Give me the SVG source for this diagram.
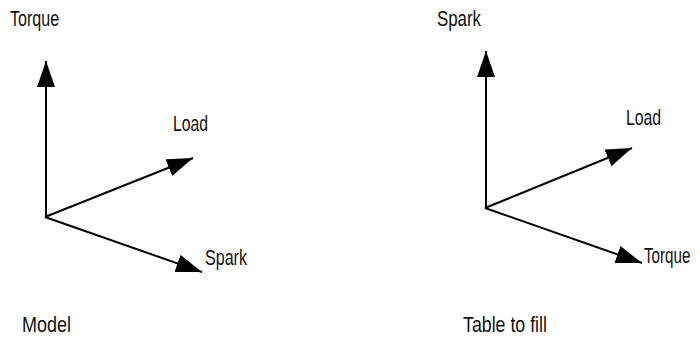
<svg xmlns="http://www.w3.org/2000/svg" width="700" height="337" viewBox="0 0 700 337">
  <style>
    .lbl { font-family: "Liberation Sans", Arial, sans-serif; font-size: 22px; fill: #111; }
    .ax { stroke: #000; stroke-width: 2; fill: none; marker-end: url(#head); }
  </style>
  <defs>
    <marker id="head" markerUnits="userSpaceOnUse" markerWidth="28" markerHeight="20" refX="26" refY="9" orient="auto">
      <path d="M0,0 L26,9 L0,18 Z" fill="#000"/>
    </marker>
  </defs>
  <rect width="700" height="337" fill="#fff"/>
  <g id="connectors">
    <line class="ax" x1="46" y1="217" x2="46" y2="61"/>
    <line class="ax" x1="45" y1="217" x2="193" y2="158"/>
    <line class="ax" x1="45" y1="217" x2="202" y2="272"/>
    <line class="ax" x1="486" y1="208" x2="486" y2="51"/>
    <line class="ax" x1="485" y1="208" x2="632" y2="148"/>
    <line class="ax" x1="485" y1="208" x2="642" y2="263"/>
  </g>
  <g id="model-torque"><text class="lbl" transform="translate(10,26) scale(0.732,1)">Torque</text></g>
  <g id="model-load"><text class="lbl" transform="translate(173,131) scale(0.716,1)">Load</text></g>
  <g id="model-spark"><text class="lbl" transform="translate(205,265) scale(0.731,1)">Spark</text></g>
  <g id="model-title"><text class="lbl" transform="translate(22,332) scale(0.818,1)">Model</text></g>
  <g id="table-spark"><text class="lbl" transform="translate(437,26) scale(0.766,1)">Spark</text></g>
  <g id="table-load"><text class="lbl" transform="translate(626,125) scale(0.716,1)">Load</text></g>
  <g id="table-torque"><text class="lbl" transform="translate(644,263) scale(0.69,1)">Torque</text></g>
  <g id="table-title"><text class="lbl" transform="translate(463,332) scale(0.808,1)">Table to fill</text></g>
</svg>
